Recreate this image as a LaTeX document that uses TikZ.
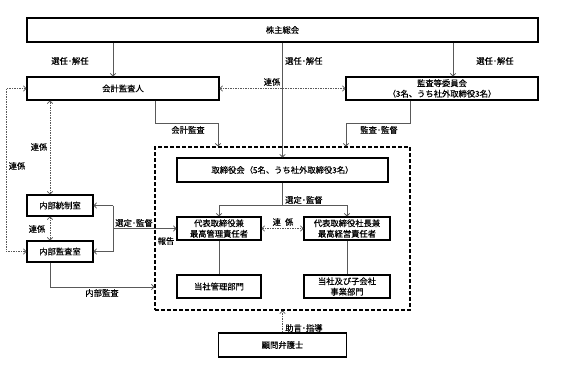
\documentclass[tikz,border=0pt]{standalone}
\usepackage{fontspec}
\setmainfont{Noto Sans CJK JP}[FakeBold=0.35]
\usetikzlibrary{arrows.meta,calc}
\begin{document}
\begin{tikzpicture}[x=1pt,y=-1pt,
  font=\fontsize{8.3}{10.5}\selectfont,
  box/.style={draw=black, line width=1.1pt, fill=white, inner sep=1pt, align=center},
  grpbox/.style={draw=black, line width=1.1pt, dash pattern=on 4pt off 2pt, inner sep=0pt},
  conn/.style={draw=black!65, line width=0.8pt},
  arr/.style={conn, -{Straight Barb[length=2.5pt,width=5.5pt]}},
  dotline/.style={draw=black!65, line width=0.7pt, dash pattern=on 1.5pt off 1pt},
  darr/.style={dotline, {Straight Barb[length=2.5pt,width=5.5pt]}-{Straight Barb[length=2.5pt,width=5.5pt]}},
  sarr/.style={dotline, -{Straight Barb[length=2.5pt,width=5.5pt]}},
  lbl/.style={inner sep=0pt}
]
\useasboundingbox (0,0) rectangle (566,386);

% group
\node[grpbox, minimum width=255pt, minimum height=163pt] (grp) at (282.5,228.5) {};

% boxes
\node[box, minimum width=511pt, minimum height=24pt] (gm) at (282.5,30) {株主総会};
\node[box, minimum width=192pt, minimum height=23pt] (auditor) at (123,88.5) {会計監査人};
\node[box, minimum width=192pt, minimum height=23pt] (acb) at (442,88.5) {監査等委員会\\（3名、うち社外取締役3名）};
\node[box, minimum width=211pt, minimum height=24pt] (board) at (282.5,170) {取締役会（5名、うち社外取締役3名）};
\node[box, minimum width=84pt, minimum height=23pt] (cmo) at (219,228.5) {代表取締役兼\\最高管理責任者};
\node[box, minimum width=86pt, minimum height=23pt] (ceo) at (347,228.5) {代表取締役社長兼\\最高経営責任者};
\node[box, minimum width=84pt, minimum height=23pt] (admin) at (219,286.5) {当社管理部門};
\node[box, minimum width=86pt, minimum height=23pt] (biz) at (347,286.5) {当社及び子会社\\事業部門};
\node[box, minimum width=66pt, minimum height=21pt] (ic) at (60,205.5) {内部統制室};
\node[box, minimum width=66pt, minimum height=21pt] (ia) at (60,251.5) {内部監査室};
\node[box, minimum width=128pt, minimum height=24pt] (lawyer) at (282.5,345) {顧問弁護士};

% helper coordinates
\coordinate (x6) at (6,0);
\coordinate (x50) at (50,0);
\coordinate (x113) at (113,0);
\coordinate (x155) at (155,0);
\coordinate (x410) at (410,0);
\coordinate (x453) at (453,0);
\coordinate (a1) at (218,123);
\coordinate (a2) at (346,123);
\coordinate (b1) at (0,205);
\coordinate (y287) at (0,287);

% connectors
\draw[arr] (gm.south -| x113) -- (auditor.north -| x113);
\draw[arr] (gm.south -| board.north) -- (board.north);
\draw[arr] (gm.south -| x453) -- (acb.north -| x453);
\draw[darr] (auditor.east) -- (acb.west);
\draw[arr] (auditor.south -| x155) |- (a1) -- (grp.north -| a1);
\draw[arr] (acb.south -| x410) |- (a2) -- (grp.north -| a2);
\draw[conn] (board.south) -- (board.south |- b1);
\draw[arr] (board.south |- b1) -| (cmo.north);
\draw[arr] (board.south |- b1) -| (ceo.north);
\draw[darr] (cmo.east) -- (ceo.west);
\draw[conn] (cmo.south) -- (admin.north);
\draw[conn] (ceo.south) -- (biz.north);
\draw[sarr] (lawyer.north) -- (grp.south -| lawyer.north);
\draw[conn] (ic.east -| x113) -- (ia.east -| x113);
\draw[arr] (ic.east -| x113) -- (ic.east);
\draw[arr] (ia.east -| x113) -- (ia.east);
\draw[arr] (cmo.west -| x113) -- (cmo.west);
\draw[darr] (ic.south -| x50) -- (ia.north -| x50);
\draw[darr] (ic.north -| x50) -- (auditor.south -| x50);
\draw[darr] (auditor.west) -- (auditor.west -| x6) |- (ia.west);
\draw[arr] (ia.south -| x50) |- (grp.west |- y287);

% labels
\node[lbl] (l1) at (70,61) {選任･解任};
\node[lbl, anchor=west] (l2) at (285,61) {選任･解任};
\node[lbl] (l3) at (495,61) {選任･解任};
\node[lbl] (l4) at (272,82) {連係};
\node[lbl] (l5) at (188,130) {会計監査};
\node[lbl] (l6) at (379,130) {監査･監督};
\node[lbl, anchor=west] (l7) at (285,200) {選定･監督};
\node[lbl] (l8) at (283,222) {連\hspace{0.5em}係};
\node[lbl] (l9) at (134,223) {選定･監督};
\node[lbl] (l10) at (166,241) {報告};
\node[lbl] (l11) at (37,229) {連係};
\node[lbl] (l12) at (39,147) {連係};
\node[lbl] (l13) at (17,166) {連係};
\node[lbl] (l14) at (102,293) {内部監査};
\node[lbl, anchor=west] (l15) at (285,328) {助言･指導};
\end{tikzpicture}
\end{document}
